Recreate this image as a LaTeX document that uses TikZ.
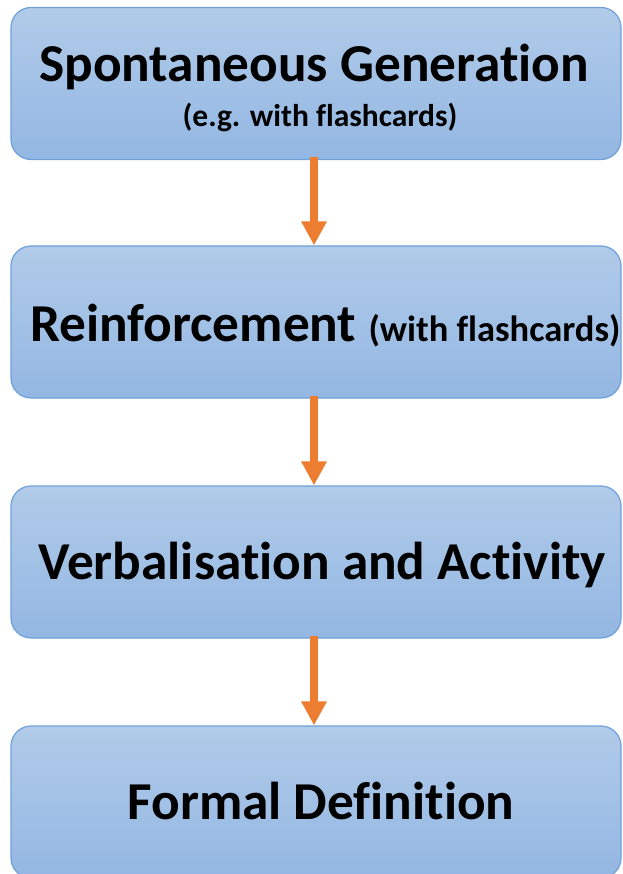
\documentclass[tikz,border=0pt]{standalone}
\usepackage{fontspec}
\setmainfont{Carlito}[RawFeature={-liga;-clig;-calt;-dlig}]
\usetikzlibrary{arrows.meta}
\definecolor{boxtop}{HTML}{B1CBE9}
\definecolor{boxbot}{HTML}{93B7E3}
\definecolor{boxedge}{HTML}{6FA0D8}
\definecolor{flow}{HTML}{ED7D31}
\tikzset{
  stage/.style={draw=boxedge, line width=1.2pt, rounded corners=20pt,
    top color=boxtop, bottom color=boxbot, minimum width=610pt,
    minimum height=152pt, inner sep=0pt},
  title/.style={font=\bfseries\fontsize{53.3}{60}\selectfont, inner sep=0pt, anchor=base},
  note/.style={font=\bfseries\fontsize{31.5}{38}\selectfont, inner sep=0pt, anchor=base},
  flowarrow/.style={draw=flow, line width=8pt,
    -{Triangle[width=24pt,length=24pt]}}
}
\begin{document}
\begin{tikzpicture}[x=1pt,y=-1pt]
  \useasboundingbox (0,0) rectangle (622,874);
  \clip (0,0) rectangle (622,874);
  % the four stages
  \node[stage] (b1) at (316,83.5) {};
  \node[stage] (b2) at (316,322) {};
  \node[stage] (b3) at (316,562) {};
  \node[stage] (b4) at (316,802) {};
  % labels
  \node[title] (t1) at (314,82) {Spontaneous Generation};
  \node[note]  (n1) at (320,126.5) {(e.g. with flashcards)};
  \node[title, anchor=base west] (t2) at (30,341) {Reinforcement {\fontsize{36.5}{44}\selectfont(with flashcards)}};
  \node[title] (t3) at (322,579) {Verbalisation and Activity};
  \node[title] (t4) at (321,819) {Formal Definition};
  % connectors
  \draw[flowarrow] ([xshift=-2pt,yshift=3pt]b1.south) -- ([xshift=-2pt]b2.north);
  \draw[flowarrow] ([xshift=-2pt,yshift=3pt]b2.south) -- ([xshift=-2pt]b3.north);
  \draw[flowarrow] ([xshift=-2pt,yshift=3pt]b3.south) -- ([xshift=-2pt]b4.north);
\end{tikzpicture}
\end{document}
